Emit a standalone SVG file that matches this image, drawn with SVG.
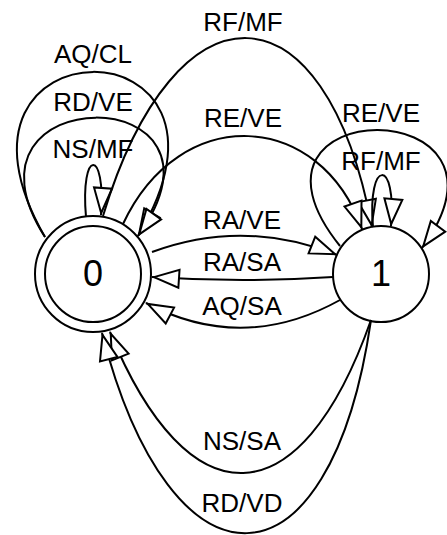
<svg xmlns="http://www.w3.org/2000/svg" width="447" height="535" viewBox="0 0 447 535">
  <style>
    .state { fill: #fff; stroke: #000; stroke-width: 2; }
    .edge { fill: none; stroke: #000; stroke-width: 2; marker-end: url(#arrow); }
    .label { font-family: "Liberation Sans", Arial, sans-serif; font-size: 26px; text-anchor: middle; fill: #000; }
    .name { font-family: "Liberation Sans", Arial, sans-serif; font-size: 36px; text-anchor: middle; fill: #000; }
  </style>
  <defs>
    <marker id="arrow" markerUnits="userSpaceOnUse" viewBox="-30 -12 32 24" refX="0" refY="0" markerWidth="32" markerHeight="24" orient="auto" overflow="visible">
      <path d="M-2,0 L-27,-9 L-27,9 Z" fill="#fff" stroke="#000" stroke-width="2"/>
    </marker>
  </defs>

  <!-- states -->
  <g id="state-0">
    <circle class="state" cx="93" cy="274" r="58"/>
    <circle class="state" cx="93" cy="274" r="48"/>
    <text class="name" x="93" y="286">0</text>
  </g>
  <g id="state-1">
    <circle class="state" cx="381" cy="274" r="48"/>
    <text class="name" x="381" y="286">1</text>
  </g>

  <!-- transitions -->
  <g id="connectors">
    <!-- self loops on 0 -->
    <path class="edge" d="M45,237 C-82,17 270,17 138,236"/>
    <path class="edge" d="M45,237 C-57,78 252,78 138,236"/>
    <path class="edge" d="M86,217 C80,148 106,148 101,215"/>
    <!-- 0 to 1 -->
    <path class="edge" d="M103,216 C175,-23 325,-23 372,227"/>
    <path class="edge" d="M123,224 C180,102 320,110 362,229"/>
    <path class="edge" d="M152,252 Q244,218 337,255"/>
    <!-- self loops on 1 -->
    <path class="edge" d="M340,246 C215,91 538,91 422,248"/>
    <path class="edge" d="M373,227 C367,158 397,158 391,226"/>
    <!-- 1 to 0 -->
    <path class="edge" d="M333,277 Q243,283 152,277"/>
    <path class="edge" d="M340,300 Q243,354 146,303"/>
    <path class="edge" d="M371,320 C300,522 188,522 110,332"/>
    <path class="edge" d="M371,320 C330,602 171,602 102,333"/>
  </g>

  <g id="labels">
    <text class="label" x="93" y="63">AQ/CL</text>
    <text class="label" x="93" y="111">RD/VE</text>
    <text class="label" x="93" y="158">NS/MF</text>
    <text class="label" x="243" y="31">RF/MF</text>
    <text class="label" x="243" y="127">RE/VE</text>
    <text class="label" x="381" y="122">RE/VE</text>
    <text class="label" x="381" y="170">RF/MF</text>
    <text class="label" x="242" y="229">RA/VE</text>
    <text class="label" x="242" y="271">RA/SA</text>
    <text class="label" x="242" y="315">AQ/SA</text>
    <text class="label" x="242" y="450">NS/SA</text>
    <text class="label" x="242" y="512">RD/VD</text>
  </g>
</svg>
